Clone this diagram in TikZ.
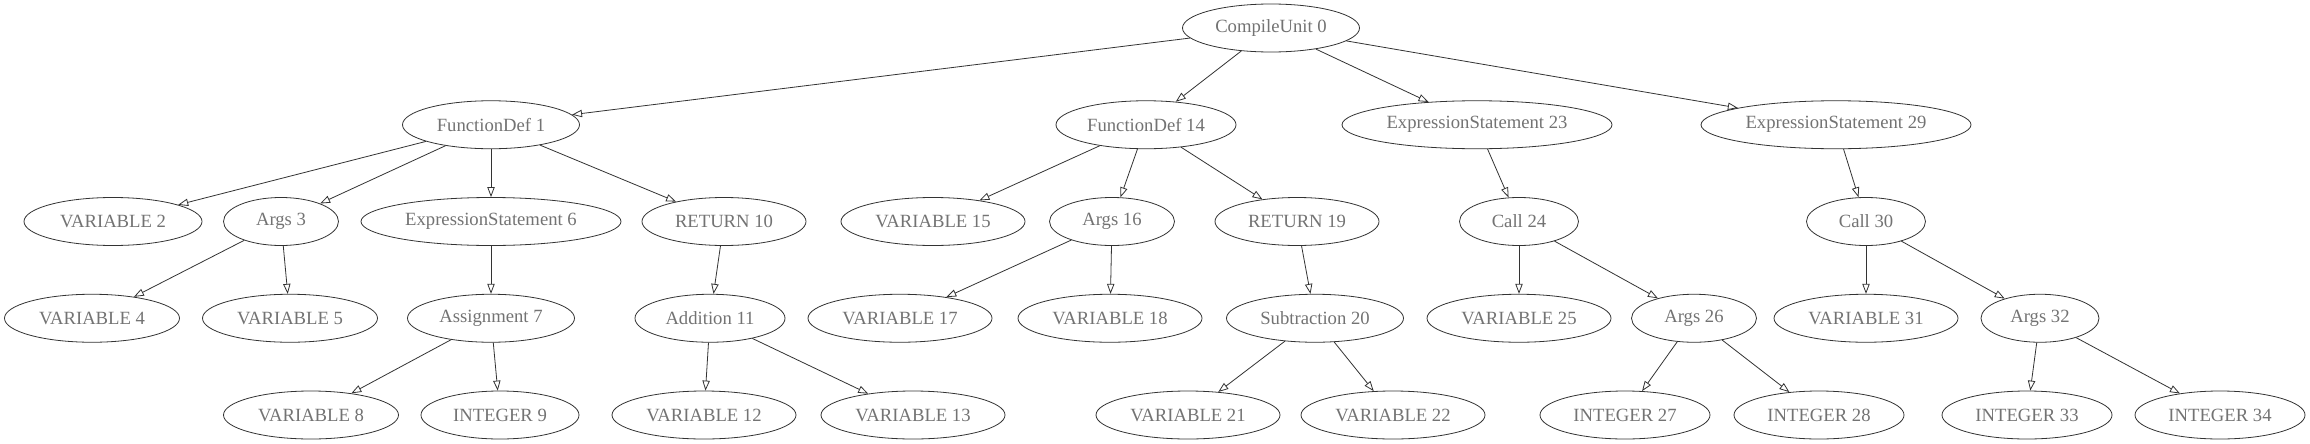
\documentclass[tikz,border=0pt]{standalone}
\usepackage{fontspec}
\setmainfont{Liberation Serif}
\usetikzlibrary{shapes.geometric,arrows.meta}
\tikzset{
  nd/.style={ellipse, draw=black!80, line width=0.6pt, inner sep=0pt,
    minimum height=36pt, text=black!55, font=\fontsize{14}{16}\selectfont},
  edge/.style={draw=black!80, line width=0.6pt,
    -{Triangle[open, length=7.5pt, width=5.5pt]}}
}
\newcommand\nd[5]{\node[nd, minimum width=#4*0.75pt] (#1) at (#2,#3) {#5};}
\begin{document}
\begin{tikzpicture}[x=0.75pt,y=-0.75pt]
\fill[white] (0,0) rectangle (2310,443);
\useasboundingbox (0,0) rectangle (2310,443);
\def\ra{28}\def\rb{124.75}\def\rc{221.5}\def\rd{318.25}\def\re{415}
% row 0
\nd{n0}{1271}{\ra}{177}{CompileUnit 0}
% row 1
\nd{n1}{491}{\rb}{177}{FunctionDef 1}
\nd{n14}{1146}{\rb}{180}{FunctionDef 14}
\nd{n23}{1477}{\rb}{270}{ExpressionStatement 23}
\nd{n29}{1836}{\rb}{270}{ExpressionStatement 29}
% row 2
\nd{n2}{113}{\rc}{178}{VARIABLE 2}
\nd{n3}{281}{\rc}{115}{Args 3}
\nd{n6}{491}{\rc}{260}{ExpressionStatement 6}
\nd{n10}{724}{\rc}{164}{RETURN 10}
\nd{n15}{933}{\rc}{184}{VARIABLE 15}
\nd{n16}{1112}{\rc}{125}{Args 16}
\nd{n19}{1297}{\rc}{164}{RETURN 19}
\nd{n24}{1519}{\rc}{119}{Call 24}
\nd{n30}{1866}{\rc}{119}{Call 30}
% row 3
\nd{n4}{92}{\rd}{175}{VARIABLE 4}
\nd{n5}{290}{\rd}{175}{VARIABLE 5}
\nd{n7}{491}{\rd}{167}{Assignment 7}
\nd{n11}{710}{\rd}{150}{Addition 11}
\nd{n17}{900}{\rd}{184}{VARIABLE 17}
\nd{n18}{1110}{\rd}{184}{VARIABLE 18}
\nd{n20}{1315}{\rd}{177}{Subtraction 20}
\nd{n25}{1519}{\rd}{184}{VARIABLE 25}
\nd{n26}{1694}{\rd}{125}{Args 26}
\nd{n31}{1866}{\rd}{184}{VARIABLE 31}
\nd{n32}{2040}{\rd}{118}{Args 32}
% row 4
\nd{n8}{311}{\re}{175}{VARIABLE 8}
\nd{n9}{500}{\re}{158}{INTEGER 9}
\nd{n12}{704}{\re}{184}{VARIABLE 12}
\nd{n13}{913}{\re}{184}{VARIABLE 13}
\nd{n21}{1188}{\re}{184}{VARIABLE 21}
\nd{n22}{1393}{\re}{184}{VARIABLE 22}
\nd{n27}{1625}{\re}{170}{INTEGER 27}
\nd{n28}{1819}{\re}{170}{INTEGER 28}
\nd{n33}{2027}{\re}{170}{INTEGER 33}
\nd{n34}{2220}{\re}{170}{INTEGER 34}
% edges
\foreach \p/\c in {n0/n1,n0/n14,n0/n23,n0/n29,
  n1/n2,n1/n3,n1/n6,n1/n10,n3/n4,n3/n5,n6/n7,n7/n8,n7/n9,
  n10/n11,n11/n12,n11/n13,
  n14/n15,n14/n16,n14/n19,n16/n17,n16/n18,n19/n20,n20/n21,n20/n22,
  n23/n24,n24/n25,n24/n26,n26/n27,n26/n28,
  n29/n30,n30/n31,n30/n32,n32/n33,n32/n34}
  \draw[edge] (\p) -- (\c);
\end{tikzpicture}
\end{document}
